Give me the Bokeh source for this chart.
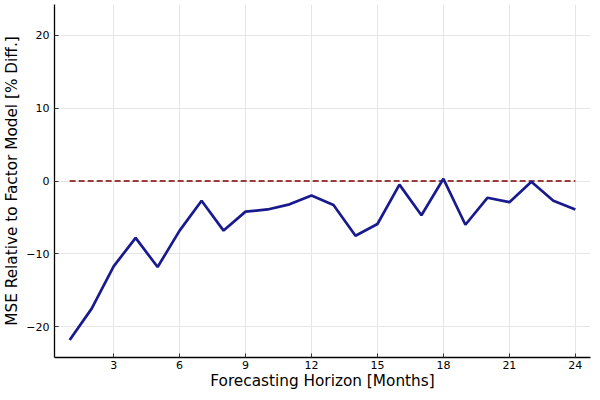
from bokeh.plotting import figure
from bokeh.embed import file_html
from bokeh.resources import INLINE
from bokeh.models import Range1d, FixedTicker

horizon = list(range(1, 25))
mse_rel = [-21.8, -17.5, -11.7, -7.8, -11.8, -6.8, -2.7, -6.8, -4.2, -3.9, -3.2, -2.0,
           -3.3, -7.5, -5.9, -0.5, -4.7, 0.3, -6.0, -2.3, -2.9, -0.1, -2.7, -3.9]
zero_line = [0.0] * 24
x_ticks = [3, 6, 9, 12, 15, 18, 21, 24]
y_ticks = [-20, -10, 0, 10, 20]

p = figure(width=592, height=392, output_backend="svg", toolbar_location=None,
           x_range=Range1d(0.31, 24.69), y_range=Range1d(-24.2, 24.2),
           min_border_left=54, min_border_right=2, min_border_top=4, min_border_bottom=35)
p.outline_line_color = None
p.background_fill_color = "white"
p.border_fill_color = "white"

p.line(horizon, zero_line, line_color="#7d0000", line_width=1.4, line_dash="6 3")
p.line(horizon, mse_rel, line_color="#1a1a8f", line_width=2.7)

font = "DejaVu Sans"
p.xaxis.ticker = FixedTicker(ticks=x_ticks)
p.yaxis.ticker = FixedTicker(ticks=y_ticks)
p.yaxis.major_label_overrides = {-20: "\u221220", -10: "\u221210", 0: "0", 10: "10", 20: "20"}
for ax in (p.xaxis, p.yaxis):
    ax.axis_line_color = "black"
    ax.axis_line_width = 1.3
    ax.major_tick_in = 4
    ax.major_tick_out = 0
    ax.minor_tick_line_color = None
    ax.major_tick_line_color = "#333333"
    ax.major_label_text_font = font
    ax.major_label_text_font_size = "11px"
    ax.major_label_text_color = "black"
    ax.axis_label_text_font = font
    ax.axis_label_text_font_size = "15.3px"
    ax.axis_label_text_font_style = "normal"
    ax.axis_label_text_color = "black"
p.xaxis.axis_label = "Forecasting Horizon [Months]"
p.yaxis.axis_label = "MSE Relative to Factor Model [% Diff.]"
p.xaxis.axis_label_standoff = 0
p.yaxis.axis_label_standoff = 2
p.xaxis.major_label_standoff = 3
p.yaxis.major_label_standoff = 5

p.xgrid.grid_line_color = "#e6e6e6"
p.ygrid.grid_line_color = "#e6e6e6"
p.xgrid.grid_line_width = 1
p.ygrid.grid_line_width = 1

open("out.html", "w").write(file_html(p, INLINE))
